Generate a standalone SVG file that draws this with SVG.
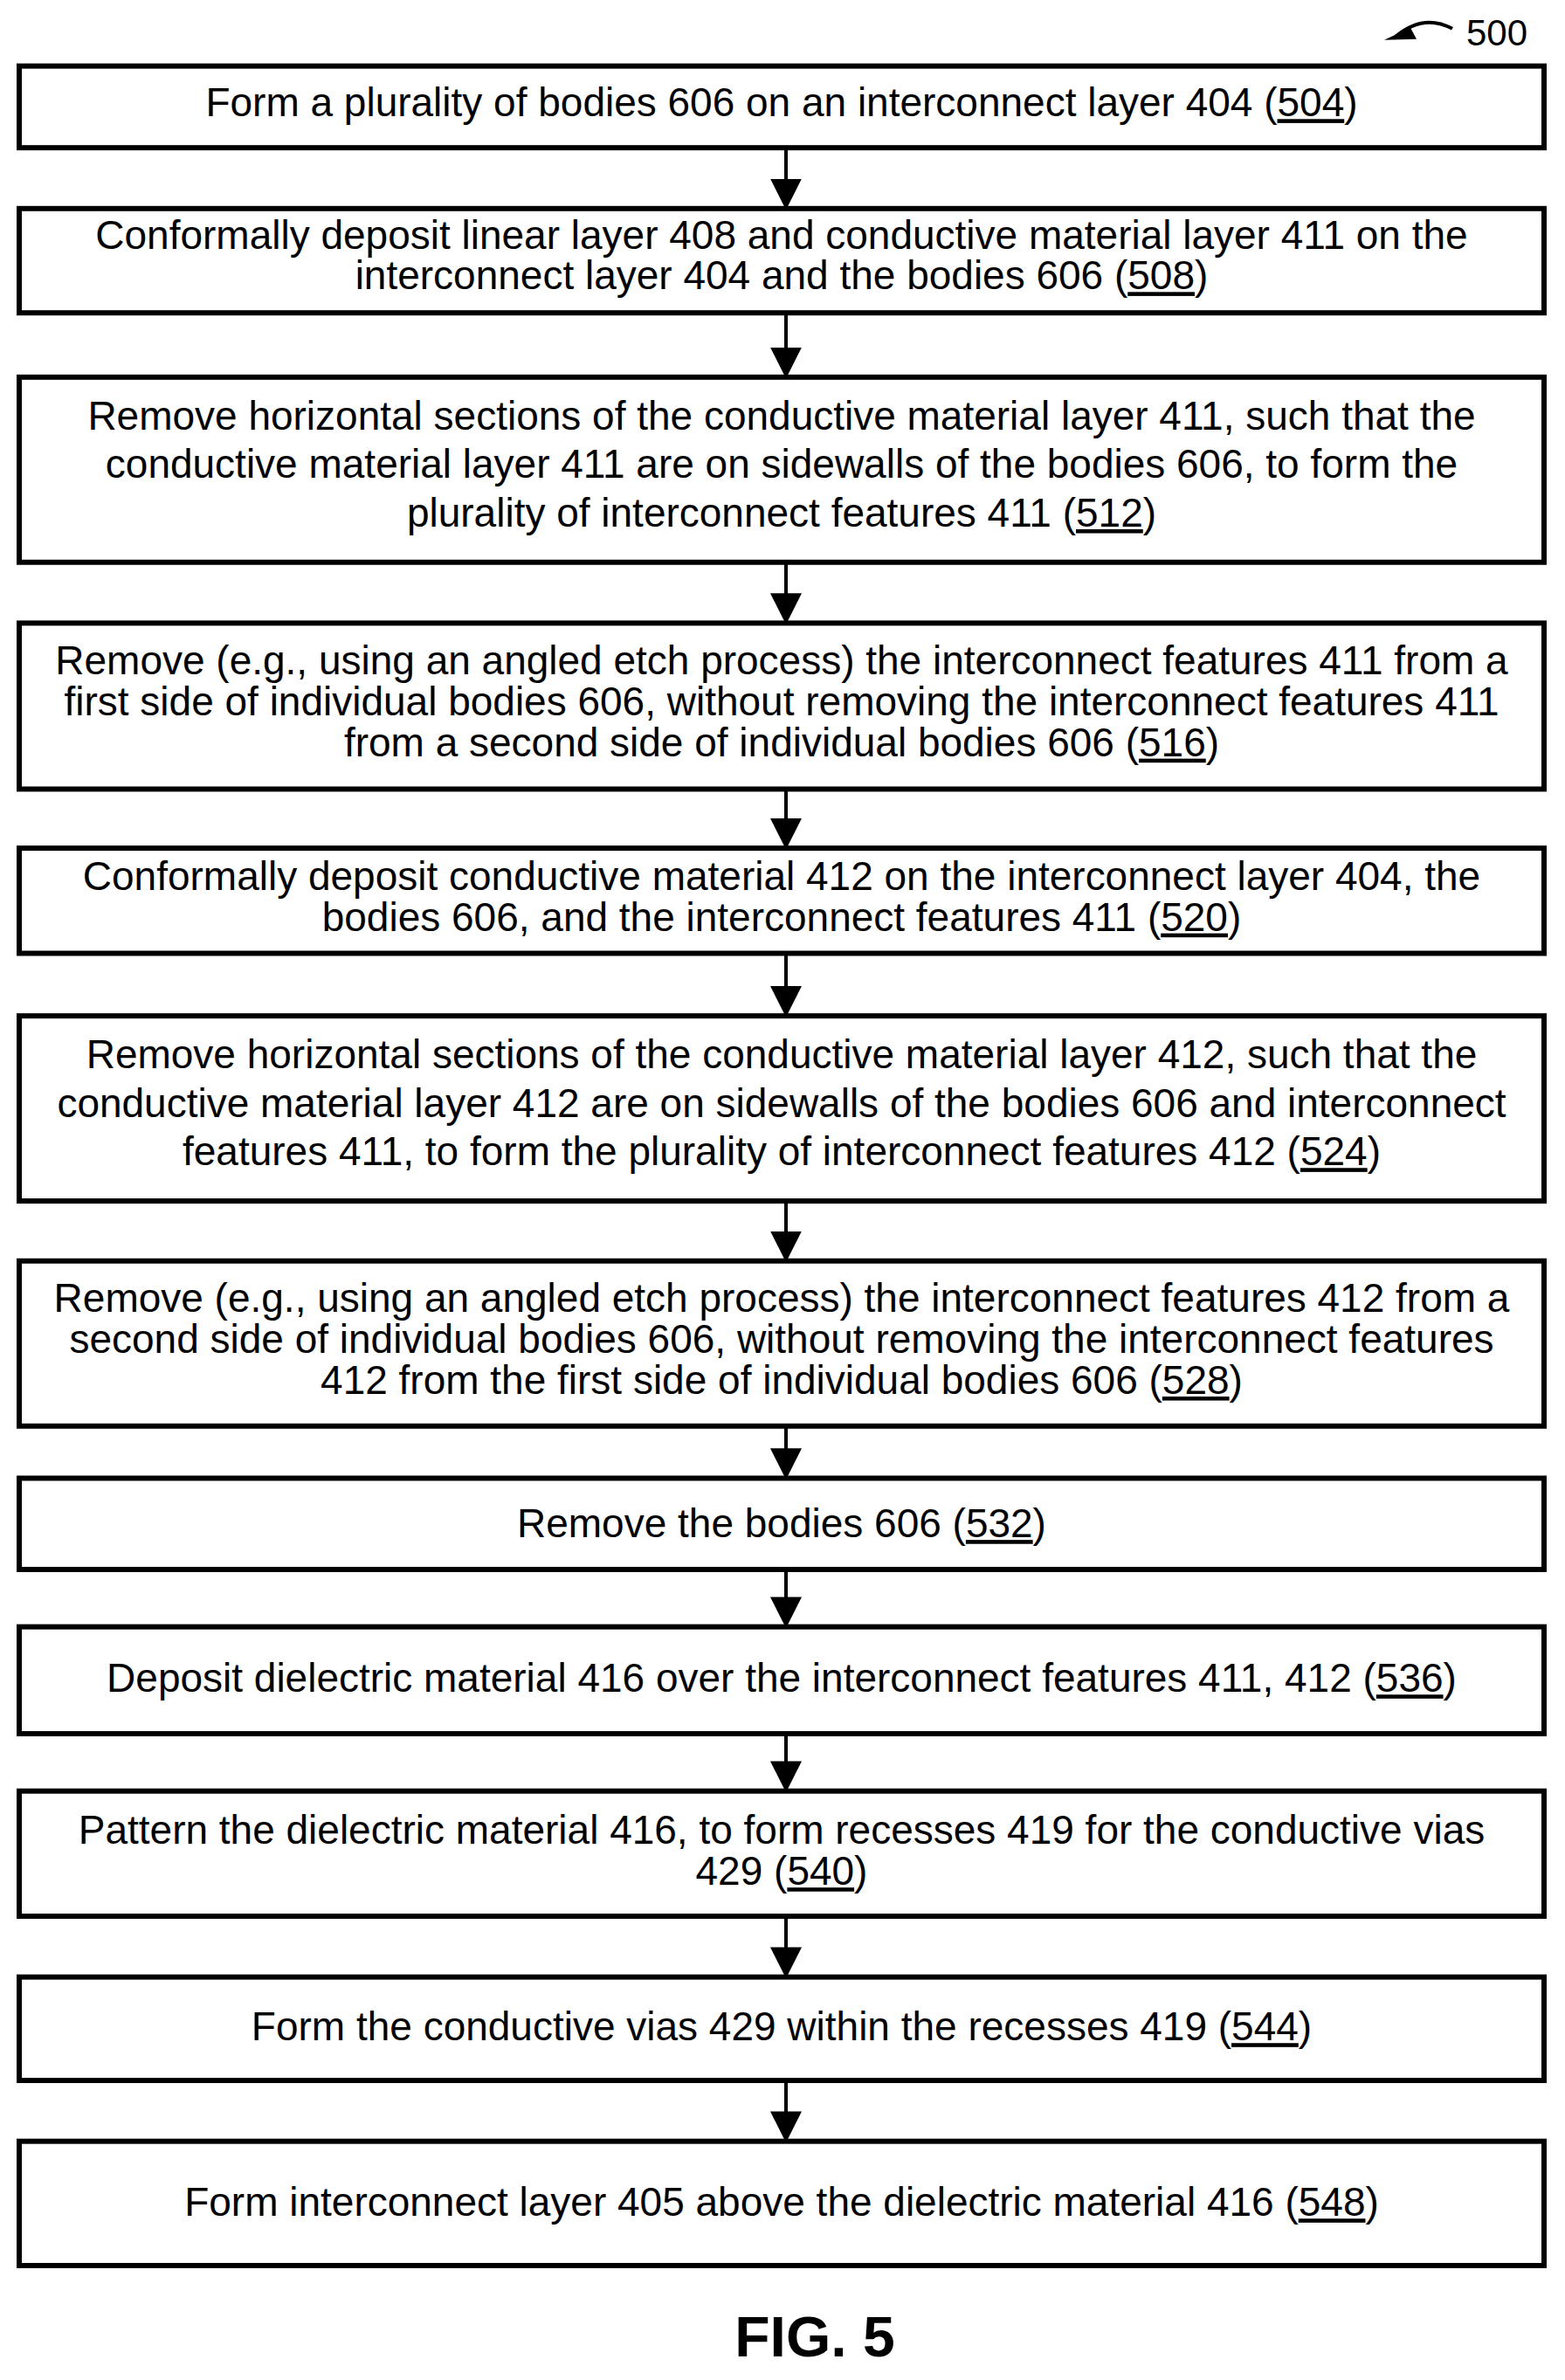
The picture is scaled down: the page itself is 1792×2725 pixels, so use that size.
<svg xmlns="http://www.w3.org/2000/svg" width="1792" height="2725" viewBox="0 0 1792 2725">
<style>
.b{fill:#fff;stroke:#000;stroke-width:6}
text{font-family:"Liberation Sans",Arial,sans-serif;font-size:46px;fill:#000;text-anchor:middle}
.u{text-decoration:underline}
.c{stroke:#000;stroke-width:4;fill:none}
</style>
<defs>
<marker id="h" viewBox="0 0 10 10" refX="9" refY="5" markerWidth="9" markerHeight="9" orient="auto" markerUnits="strokeWidth"><path d="M0,0L10,5L0,10z"/></marker></defs>
<rect width="1792" height="2725" fill="#fff"/>
<g transform="scale(1,0.995)">
<path d="M1663,33 Q1630,15 1598,42" class="c" stroke-width="3"/>
<path d="M1615,32 L1585,46 L1622,45 z" fill="#000"/>
<text x="1714" y="52" style="font-size:42px">500</text>
<g id="connectors" class="c">
<line x1="900" y1="170" x2="900" y2="238" marker-end="url(#h)"/>
<line x1="900" y1="360" x2="900" y2="432" marker-end="url(#h)"/>
<line x1="900" y1="647" x2="900" y2="715" marker-end="url(#h)"/>
<line x1="900" y1="908" x2="900" y2="974" marker-end="url(#h)"/>
<line x1="900" y1="1097" x2="900" y2="1167" marker-end="url(#h)"/>
<line x1="900" y1="1382" x2="900" y2="1449" marker-end="url(#h)"/>
<line x1="900" y1="1641" x2="900" y2="1699" marker-end="url(#h)"/>
<line x1="900" y1="1806" x2="900" y2="1870" marker-end="url(#h)"/>
<line x1="900" y1="1995" x2="900" y2="2059" marker-end="url(#h)"/>
<line x1="900" y1="2205" x2="900" y2="2273" marker-end="url(#h)"/>
<line x1="900" y1="2394" x2="900" y2="2462" marker-end="url(#h)"/>
</g>
<g id="n504"><rect class="b" x="22" y="76" width="1746" height="94"/><text x="895" y="134">Form a plurality of bodies 606 on an interconnect layer 404 (<tspan class="u">504</tspan>)</text></g>
<g id="n508"><rect class="b" x="22" y="240" width="1746" height="120"/><text x="895" y="286">Conformally deposit linear layer 408 and conductive material layer 411 on the</text><text x="895" y="333">interconnect layer 404 and the bodies 606 (<tspan class="u">508</tspan>)</text></g>
<g id="n512"><rect class="b" x="22" y="434" width="1746" height="213"/><text x="895" y="494">Remove horizontal sections of the conductive material layer 411, such that the</text><text x="895" y="550">conductive material layer 411 are on sidewalls of the bodies 606, to form the</text><text x="895" y="606">plurality of interconnect features 411 (<tspan class="u">512</tspan>)</text></g>
<g id="n516"><rect class="b" x="22" y="717" width="1746" height="191"/><text x="895" y="776">Remove (e.g., using an angled etch process) the interconnect features 411 from a</text><text x="895" y="823">first side of individual bodies 606, without removing the interconnect features 411</text><text x="895" y="870">from a second side of individual bodies 606 (<tspan class="u">516</tspan>)</text></g>
<g id="n520"><rect class="b" x="22" y="976" width="1746" height="121"/><text x="895" y="1024">Conformally deposit conductive material 412 on the interconnect layer 404, the</text><text x="895" y="1071">bodies 606, and the interconnect features 411 (<tspan class="u">520</tspan>)</text></g>
<g id="n524"><rect class="b" x="22" y="1169" width="1746" height="213"/><text x="895" y="1229">Remove horizontal sections of the conductive material layer 412, such that the</text><text x="895" y="1285">conductive material layer 412 are on sidewalls of the bodies 606 and interconnect</text><text x="895" y="1341">features 411, to form the plurality of interconnect features 412 (<tspan class="u">524</tspan>)</text></g>
<g id="n528"><rect class="b" x="22" y="1451" width="1746" height="190"/><text x="895" y="1510">Remove (e.g., using an angled etch process) the interconnect features 412 from a</text><text x="895" y="1557">second side of individual bodies 606, without removing the interconnect features</text><text x="895" y="1604">412 from the first side of individual bodies 606 (<tspan class="u">528</tspan>)</text></g>
<g id="n532"><rect class="b" x="22" y="1701" width="1746" height="105"/><text x="895" y="1769">Remove the bodies 606 (<tspan class="u">532</tspan>)</text></g>
<g id="n536"><rect class="b" x="22" y="1872" width="1746" height="123"/><text x="895" y="1947">Deposit dielectric material 416 over the interconnect features 411, 412 (<tspan class="u">536</tspan>)</text></g>
<g id="n540"><rect class="b" x="22" y="2061" width="1746" height="144"/><text x="895" y="2122">Pattern the dielectric material 416, to form recesses 419 for the conductive vias</text><text x="895" y="2169">429 (<tspan class="u">540</tspan>)</text></g>
<g id="n544"><rect class="b" x="22" y="2275" width="1746" height="119"/><text x="895" y="2348">Form the conductive vias 429 within the recesses 419 (<tspan class="u">544</tspan>)</text></g>
<g id="n548"><rect class="b" x="22" y="2464" width="1746" height="143"/><text x="895" y="2550">Form interconnect layer 405 above the dielectric material 416 (<tspan class="u">548</tspan>)</text></g>
<text x="933" y="2712" style="font-size:66px;font-weight:bold">FIG. 5</text>
</g>
</svg>
